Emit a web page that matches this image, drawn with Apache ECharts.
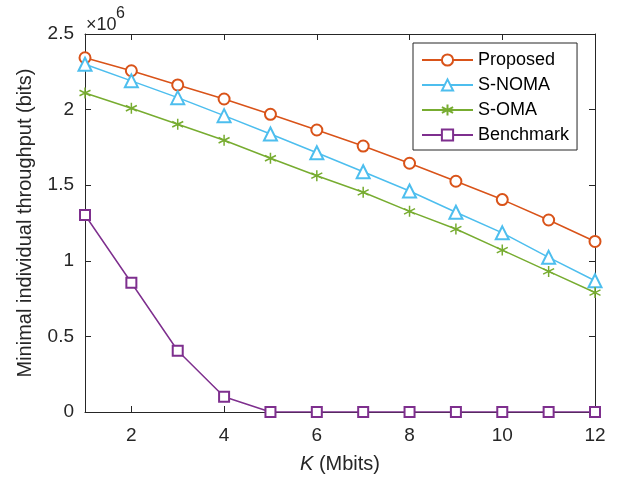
<!DOCTYPE html>
<html>
<head>
<meta charset="utf-8">
<script src="https://cdn.jsdelivr.net/npm/echarts@6/dist/echarts.min.js"></script>
<style>html,body{margin:0;padding:0;background:#fff}#c{width:623px;height:479px}</style>
</head>
<body>
<div id="c"></div>
<script>
var K = [1,2,3,4,5,6,7,8,9,10,11,12];
var proposed  = [2.343,2.257,2.163,2.070,1.969,1.865,1.759,1.645,1.526,1.405,1.270,1.128];
var snoma     = [2.300,2.190,2.079,1.960,1.839,1.715,1.589,1.462,1.321,1.185,1.023,0.868];
var soma      = [2.110,2.009,1.903,1.797,1.678,1.563,1.453,1.327,1.210,1.071,0.930,0.790];
var benchmark = [1.303,0.855,0.405,0.101,0,0,0,0,0,0,0,0];
var xTicks = [2,4,6,8,10,12];
var yTicks = [0,0.5,1,1.5,2,2.5];
var names = ['Proposed','S-NOMA','S-OMA','Benchmark'];

var FONT = 'Liberation Sans, Arial, sans-serif';
var AX = '#262626';
function pts(arr){ return K.map(function(k,i){ return [k, arr[i]*1e6]; }); }
var star = 'path://M0,-10L0,10M-8.66,-5L8.66,5M-8.66,5L8.66,-5';

function mk(name, data, color, symbol, size){
  return {
    name: name, type: 'line', data: pts(data),
    symbol: symbol, symbolSize: size, showSymbol: true,
    lineStyle: {color: color, width: 1.5},
    itemStyle: {color: color, borderColor: color, borderWidth: 1.5},
    emphasis: {disabled: true}, animation: false, z: 3
  };
}

var chart = echarts.init(document.getElementById('c'), null, {renderer:'canvas'});
chart.setOption({
  backgroundColor: '#fff',
  animation: false,
  textStyle: {fontFamily: FONT},
  grid: {left: 85, right: 28, top: 34, bottom: 66, containLabel: false},
  xAxis: [{
    type: 'value', min: 1, max: 12, position: 'bottom',
    name: '{i|K} (Mbits)', nameLocation: 'middle', nameGap: 42,
    nameTextStyle: {color: AX, fontSize: 20, fontFamily: FONT,
      rich: {i: {fontStyle: 'italic', fontSize: 20, fontFamily: FONT, color: AX}}},
    axisLine: {show: true, onZero: false, lineStyle: {color: AX, width: 1}},
    axisTick: {show: true, inside: true, length: 6, customValues: xTicks, lineStyle: {color: AX}},
    axisLabel: {customValues: xTicks, color: AX, fontSize: 19, fontFamily: FONT, margin: 14},
    splitLine: {show: false}
  },{
    type: 'value', min: 1, max: 12, position: 'top',
    axisLine: {show: true, onZero: false, lineStyle: {color: AX, width: 1}},
    axisTick: {show: true, inside: true, length: 6, customValues: xTicks, lineStyle: {color: AX}},
    axisLabel: {show: false}, splitLine: {show: false}
  }],
  yAxis: [{
    type: 'value', min: 0, max: 2.5e6, interval: 0.5e6, position: 'left',
    name: 'Minimal individual throughput (bits)', nameLocation: 'middle', nameGap: 50,
    nameTextStyle: {color: AX, fontSize: 20, fontFamily: FONT},
    axisLine: {show: true, onZero: false, lineStyle: {color: AX, width: 1}},
    axisTick: {show: true, inside: true, length: 6, lineStyle: {color: AX}},
    axisLabel: {color: AX, fontSize: 19, fontFamily: FONT, margin: 11,
      formatter: function(v){ return String(Math.round(v/1e5)/10); }},
    splitLine: {show: false}
  },{
    type: 'value', min: 0, max: 2.5e6, interval: 0.5e6, position: 'right',
    axisLine: {show: true, onZero: false, lineStyle: {color: AX, width: 1}},
    axisTick: {show: true, inside: true, length: 6, lineStyle: {color: AX}},
    axisLabel: {show: false}, splitLine: {show: false}
  }],
  legend: {
    orient: 'vertical', left: 413, top: 43,
    data: names,
    itemWidth: 51, itemHeight: 14, itemGap: 7, itemTextGap: 6,
    padding: [8, 8, 6, 8],
    backgroundColor: '#fff', borderColor: AX, borderWidth: 1, borderRadius: 0,
    textStyle: {color: '#000', fontSize: 18, fontFamily: FONT},
    selectedMode: false
  },
  graphic: [{
    type: 'text', left: 86, top: 16,
    style: {text: '×10', fill: AX, font: '18px ' + FONT}
  },{
    type: 'text', left: 116, top: 6,
    style: {text: '6', fill: AX, font: '16px ' + FONT}
  }],
  series: [
    mk(names[0], proposed, '#D95319', 'emptyCircle', 11),
    mk(names[1], snoma, '#4DBEEE', 'emptyTriangle', 13),
    mk(names[2], soma, '#77AC30', star, 11),
    mk(names[3], benchmark, '#7E2F8E', 'emptyRect', 10)
  ]
});
</script>
</body>
</html>
